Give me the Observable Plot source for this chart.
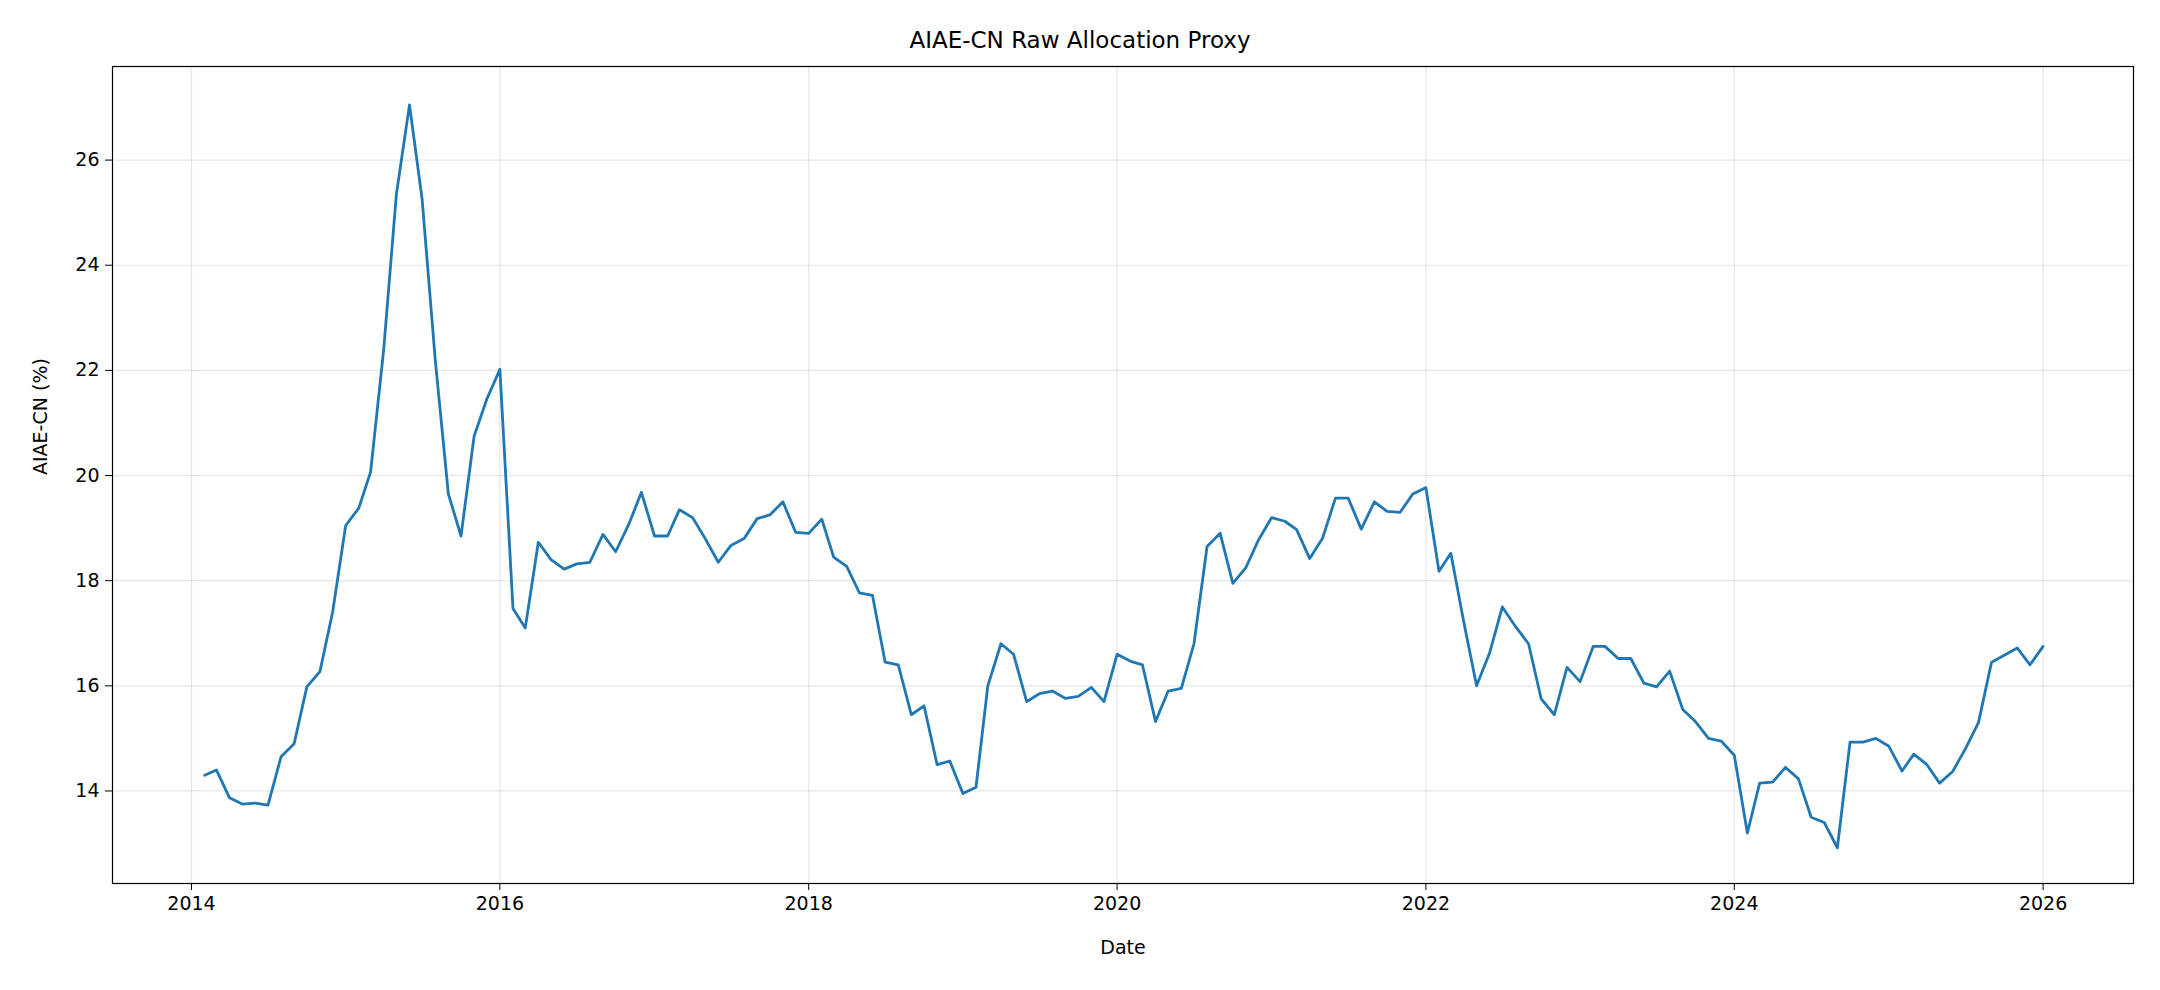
<!DOCTYPE html>
<html><head><meta charset="utf-8">
<script src="https://cdn.jsdelivr.net/npm/d3@7"></script>
<script src="https://cdn.jsdelivr.net/npm/@observablehq/plot@0.6"></script>
<style>
body{margin:0;background:#fff;font-family:"DejaVu Sans",sans-serif;}
#title{height:56px;line-height:80px;text-align:center;font-size:23px;color:#000;width:2160px;}
</style></head><body>
<div id="title">AIAE-CN Raw Allocation Proxy</div>
<div id="chart"></div>
<script>
const startYear = 2014, startMonth = 2; // first observation: Feb 2014
const values = [
14.3,14.4,13.87,13.75,13.77,13.73,14.65,14.9,15.98,16.27,17.4,
19.05,19.38,20.07,22.4,25.35,27.05,25.25,22.2,19.65,18.85,20.75,21.45,
22.02,17.47,17.1,18.73,18.4,18.22,18.32,18.35,18.88,18.55,19.07,19.68,
18.85,18.85,19.35,19.2,18.8,18.35,18.67,18.8,19.18,19.25,19.5,18.92,
18.9,19.17,18.45,18.27,17.77,17.72,16.45,16.4,15.45,15.62,14.5,14.57,
13.95,14.07,16.0,16.8,16.6,15.7,15.85,15.9,15.76,15.8,15.97,15.7,
16.6,16.47,16.4,15.32,15.9,15.95,16.8,18.65,18.9,17.95,18.25,18.78,
19.2,19.13,18.97,18.42,18.8,19.57,19.57,18.98,19.5,19.32,19.3,19.65,
19.77,18.18,18.52,17.2,16.0,16.63,17.5,17.13,16.8,15.75,15.45,16.35,
16.08,16.75,16.75,16.52,16.52,16.05,15.98,16.28,15.55,15.32,15.0,14.95,
14.68,13.2,14.15,14.17,14.45,14.23,13.5,13.4,12.92,14.93,14.93,15.0,
14.85,14.38,14.7,14.5,14.15,14.37,14.8,15.3,16.45,16.58,16.72,16.4,
16.75
];
const yTicks = [14,16,18,20,22,24,26];
const xTickYears = [2014,2016,2018,2020,2022,2024,2026];
const data = values.map((v,i)=>({date:new Date(Date.UTC(startYear, startMonth-1+i, 1)), value:v}));
const xTicks = xTickYears.map(y=>new Date(Date.UTC(y,0,1)));
const yearFmt = d=>String(d.getUTCFullYear());
const chart = Plot.plot({
  width:2160, height:934,
  marginTop:10, marginBottom:107, marginLeft:112, marginRight:27,
  style:{fontSize:"19px", fontFamily:"DejaVu Sans, sans-serif", color:"#000", background:"#fff"},
  x:{type:"utc", domain:[new Date(Date.UTC(2013,5,28)), new Date(Date.UTC(2026,7,3))], label:null},
  y:{domain:[12.24,27.78], label:null},
  marks:[
    Plot.gridX(xTicks,{stroke:"#b0b0b0", strokeOpacity:0.3, strokeWidth:1.2}),
    Plot.gridY(yTicks,{stroke:"#b0b0b0", strokeOpacity:0.3, strokeWidth:1.2}),
    Plot.frame({stroke:"#000", strokeWidth:1.2}),
    Plot.axisX({ticks:xTicks, tickFormat:yearFmt, tickSize:7, tickPadding:6, label:null}),
    Plot.axisY({ticks:yTicks, tickFormat:d=>String(d), tickSize:7, tickPadding:6, label:null}),
    Plot.line(data,{x:"date", y:"value", stroke:"#1f77b4", strokeWidth:2.8}),
    Plot.text(["Date"],{frameAnchor:"bottom", dy:70, fontSize:19, fill:"#000"}),
    Plot.text(["AIAE-CN (%)"],{frameAnchor:"left", dx:-72, rotate:-90, fontSize:19, fill:"#000"})
  ]
});
document.getElementById("chart").appendChild(chart);
</script>
</body></html>
